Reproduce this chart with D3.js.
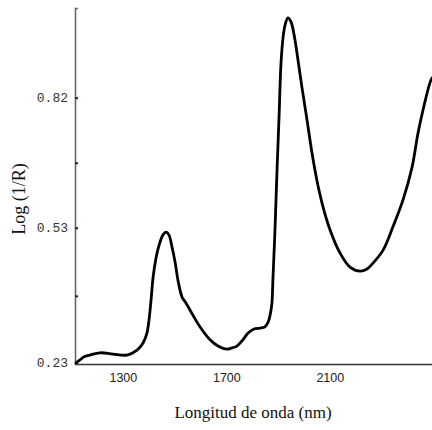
<!DOCTYPE html>
<html>
<head>
<meta charset="utf-8">
<script src="https://cdn.jsdelivr.net/npm/d3@7"></script>
<style>
  body { margin: 0; background: #fff; }
  svg { display: block; }
  .serif { font-family: "Liberation Serif", "Times New Roman", serif; }
  .mono { font-family: "Liberation Mono", "DejaVu Sans Mono", monospace; }
  .sans { font-family: "Liberation Sans", Arial, sans-serif; }
</style>
</head>
<body>
<svg id="chart" width="432" height="430"></svg>
<script>
// Wavelength (nm) and Log(1/R)
const wavelength = [1119, 1134, 1150, 1173, 1212, 1262, 1316, 1355, 1378, 1393, 1401, 1409, 1417, 1428, 1440, 1455, 1467, 1478, 1490, 1502, 1513, 1529, 1544, 1560, 1598, 1637, 1668, 1703, 1722, 1741, 1764, 1784, 1807, 1830, 1849, 1862, 1869, 1876, 1880, 1888, 1896, 1904, 1911, 1919, 1927, 1938, 1950, 1962, 1973, 1992, 2012, 2031, 2050, 2074, 2101, 2139, 2178, 2217, 2244, 2267, 2306, 2344, 2383, 2418, 2441, 2460, 2487, 2495];
const logR = [0.228, 0.235, 0.242, 0.246, 0.251, 0.248, 0.246, 0.257, 0.273, 0.295, 0.324, 0.369, 0.420, 0.462, 0.491, 0.514, 0.520, 0.514, 0.487, 0.453, 0.413, 0.375, 0.362, 0.346, 0.309, 0.280, 0.266, 0.259, 0.262, 0.266, 0.280, 0.295, 0.304, 0.306, 0.309, 0.320, 0.335, 0.360, 0.413, 0.525, 0.659, 0.781, 0.893, 0.953, 0.982, 0.998, 0.989, 0.960, 0.920, 0.844, 0.770, 0.697, 0.636, 0.576, 0.525, 0.474, 0.442, 0.433, 0.438, 0.451, 0.480, 0.532, 0.592, 0.665, 0.741, 0.792, 0.853, 0.864];
const xTicks = [1300, 1700, 2100];
const yTicks = [0.23, 0.378, 0.53, 0.675, 0.82];
const yTickLabels = ["0.23", "", "0.53", "", "0.82"];

const svg = d3.select("#chart");
const x = d3.scaleLinear().domain([1115, 2495]).range([75, 432]);
const y = d3.scaleLinear().domain([0.226, 1.02]).range([364, 8]);

// x axis (no tick marks)
const xAxis = d3.axisBottom(x).tickValues(xTicks).tickSize(0).tickPadding(9).tickFormat(d3.format("d"));
const gx = svg.append("g").attr("transform", `translate(0,${y(0.226)})`).call(xAxis);
gx.attr("font-family", null).attr("font-size", null);
gx.select(".domain").attr("stroke", "#333").attr("stroke-width", 1.6);
gx.selectAll("text").attr("class", "sans").style("font-size", "12.5px").attr("fill", "#222");

// y axis with inward ticks
const yAxis = d3.axisLeft(y).tickValues(yTicks).tickSize(-3).tickPadding(7)
  .tickFormat((d, i) => yTickLabels[i]);
const gy = svg.append("g").attr("transform", `translate(${x(1115)},0)`).call(yAxis);
gy.attr("font-family", null).attr("font-size", null);
gy.select(".domain").attr("stroke", "#666").attr("stroke-width", 1.6);
gy.selectAll(".tick line").attr("stroke", "#222").attr("stroke-width", 2);
gy.selectAll("text").attr("class", "mono").style("font-size", "13px").attr("fill", "#333");

// curve
const pts = wavelength.map((w, i) => [w, logR[i]]);
const line = d3.line().x(d => x(d[0])).y(d => y(d[1])).curve(d3.curveCatmullRom.alpha(0.5));
svg.append("path").datum(pts).attr("d", line)
  .attr("fill", "none").attr("stroke", "#000").attr("stroke-width", 2.8)
  .attr("stroke-linejoin", "round").attr("stroke-linecap", "round");

// axis titles
svg.append("text").attr("class", "serif").attr("x", 253).attr("y", 418).attr("text-anchor", "middle")
  .style("font-size", "17px").attr("fill", "#111")
  .text("Longitud de onda (nm)");
svg.append("text").attr("class", "serif").attr("transform", "translate(25,199) rotate(-90)").attr("text-anchor", "middle")
  .style("font-size", "18px").attr("fill", "#111")
  .text("Log (1/R)");
</script>
</body>
</html>
